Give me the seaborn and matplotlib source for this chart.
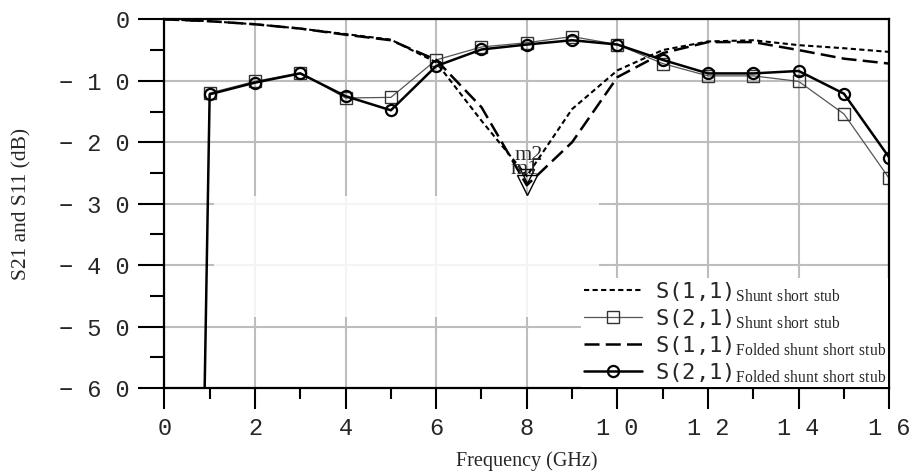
import matplotlib
import matplotlib.pyplot as plt
import numpy as np
import pandas as pd
import seaborn as sns
from matplotlib.patches import Rectangle

matplotlib.use('Agg')

# frequency (GHz)
freq = [0, 1, 2, 3, 4, 5, 6, 7, 8, 9, 10, 11, 12, 13, 14, 15, 16]
# S(1,1) shunt short stub (dotted)
s11_shunt = [0, -0.3, -0.8, -1.5, -2.4, -3.3, -7.0, -16.5, -25.5, -14.6,
             -8.3, -5.0, -3.6, -3.4, -4.2, -4.7, -5.3]
# S(1,1) folded shunt short stub (long dash)
s11_folded = [0, -0.3, -0.8, -1.5, -2.5, -3.4, -6.6, -14.3, -27.0, -20.0,
              -9.4, -5.5, -3.7, -3.7, -5.0, -6.4, -7.2]
# S(2,1) shunt short stub (squares), 1..16 GHz
freq21 = freq[1:]
s21_shunt = [-12.0, -10.1, -8.7, -12.8, -12.7, -6.6, -4.5, -3.8, -2.8, -4.1,
             -7.2, -9.2, -9.2, -10.1, -15.4, -25.9]
# S(2,1) folded shunt short stub (circles), first point is the drop below the axis
freq21_f = [0.89] + freq21
s21_folded = [-60.0, -12.2, -10.3, -8.8, -12.5, -14.8, -7.6, -4.9, -4.1, -3.4,
              -4.1, -6.6, -8.8, -8.8, -8.4, -12.1, -22.5]

xticks = [0, 2, 4, 6, 8, 10, 12, 14, 16]
xlabels = ["0", "2", "4", "6", "8", "1 0", "1 2", "1 4", "1 6"]
yticks = [0, -10, -20, -30, -40, -50, -60]
ylabels = ["0", "\u2212 1 0", "\u2212 2 0", "\u2212 3 0", "\u2212 4 0",
           "\u2212 5 0", "\u2212 6 0"]

sns.set_style("white")
plt.rcParams['font.family'] = ['Liberation Serif', 'DejaVu Sans']
plt.rcParams['mathtext.fontset'] = 'custom'
plt.rcParams['mathtext.rm'] = 'Liberation Serif'

fig = plt.figure(figsize=(9.13, 4.72), dpi=100)
ax = fig.add_axes([0.180, 0.178, 0.794, 0.781])

sub = lambda s: "$_{\\mathrm{" + s.replace(" ", "\\ ") + "}}$"

sns.lineplot(x=freq, y=s11_shunt, ax=ax, color='black', lw=1.5,
             linestyle=(0, (2.5, 1.6)), label="S(1,1)" + sub("Shunt short stub"))
sns.lineplot(x=freq21, y=s21_shunt, ax=ax, color='#555555', lw=0.9,
             marker='s', ms=9, mfc='none', mec='#333333', mew=1.0,
             label="S(2,1)" + sub("Shunt short stub"))
sns.lineplot(x=freq, y=s11_folded, ax=ax, color='black', lw=1.8,
             linestyle=(0, (6, 2.5)), label="S(1,1)" + sub("Folded shunt short stub"))
sns.lineplot(x=freq21_f, y=s21_folded, ax=ax, color='black', lw=1.8,
             marker='o', ms=8, mfc='none', mec='black', mew=1.6,
             markevery=list(range(1, len(freq21_f))),
             label="S(2,1)" + sub("Folded shunt short stub"))

# m1 / m2 markers at 8 GHz
i8 = freq.index(8)
ax.plot([8], [s11_shunt[i8]], marker='v', ms=10, mfc='none', mec='black', mew=1.0)
ax.plot([8], [s11_folded[i8]], marker='v', ms=14, mfc='none', mec='black', mew=1.0)
ax.text(8.05, s11_shunt[i8] + 3.4, "m2", ha='center', va='center', fontsize=16)
ax.text(7.95, s11_shunt[i8] + 1.1, "m1", ha='center', va='center', fontsize=16)

# white patch that hides part of the grid in the original
ax.add_patch(Rectangle((1.1, -48.5), 8.5, 19.7, fc='white', ec='none',
                       alpha=0.85, zorder=1.5))

ax.set_xlim(0, 16)
ax.set_ylim(-60, 0)
ax.set_xticks(xticks)
ax.set_xticklabels(xlabels, family='Liberation Mono', fontsize=17)
ax.set_yticks(yticks)
ax.set_yticklabels(ylabels, family='Liberation Mono', fontsize=17)
ax.set_xticks(np.arange(1, 16, 2), minor=True)
ax.set_yticks(np.arange(-55, 0, 10), minor=True)
ax.tick_params(axis='y', which='major', direction='out', length=19, width=1.5, pad=6)
ax.tick_params(axis='y', which='minor', direction='out', length=10, width=1.5)
ax.tick_params(axis='x', which='major', direction='out', length=15, width=1.5, pad=6)
ax.tick_params(axis='x', which='minor', direction='out', length=8, width=1.5)
ax.tick_params(left=True, bottom=True, which='both', color='black')
ax.grid(True, which='major', color='#bdbdbd', lw=1.5)
for s in ax.spines.values():
    s.set_color('black')
    s.set_linewidth(1.6)

ax.set_xlabel("Frequency (GHz)", fontsize=14.5, labelpad=8)
ax.set_ylabel("S21 and S11 (dB)", fontsize=15.5, labelpad=20)

leg = ax.legend(loc='lower right', bbox_to_anchor=(1.0, 0.0), frameon=True,
                framealpha=1, edgecolor='none', fancybox=False,
                prop={'family': 'DejaVu Sans Mono', 'size': 16}, handlelength=2.65,
                labelspacing=0.15, borderaxespad=0.05, borderpad=0.1,
                handletextpad=0.55)

fig.savefig("out.png", dpi=100, facecolor='white')
